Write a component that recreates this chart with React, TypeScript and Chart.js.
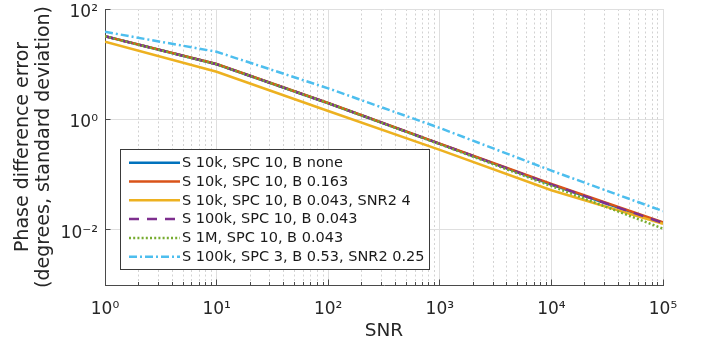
import React, { useEffect, useRef } from 'react';
import { Chart, registerables } from 'chart.js';

Chart.register(...registerables);

// ---------- data ----------
const SNR = [1, 10, 100, 1000, 10000, 100000];

const S10K_B_NONE = [32, 10.0, 1.96, 0.36, 0.066, 0.0132];
const S10K_B_0163 = [32.3, 10.1, 1.98, 0.365, 0.068, 0.0137];
const S10K_B_0043_SNR2_4 = [25.5, 7.3, 1.42, 0.28, 0.052, 0.0128];
const S100K_B_0043 = [32, 10.0, 1.97, 0.36, 0.066, 0.0133];
const S1M_B_0043 = [32, 10.0, 1.97, 0.355, 0.062, 0.0105];
const S100K_SPC3_B053_SNR2_025 = [38.6, 16.8, 3.65, 0.7, 0.118, 0.0218];

const SERIES_LABELS = [
  'S 10k, SPC 10, B none',
  'S 10k, SPC 10, B 0.163',
  'S 10k, SPC 10, B 0.043, SNR2 4',
  'S 100k, SPC 10, B 0.043',
  'S 1M, SPC 10, B 0.043',
  'S 100k, SPC 3, B 0.53, SNR2 0.25',
];
const SERIES_VALUES = [
  S10K_B_NONE,
  S10K_B_0163,
  S10K_B_0043_SNR2_4,
  S100K_B_0043,
  S1M_B_0043,
  S100K_SPC3_B053_SNR2_025,
];
const SERIES_COLORS = ['#0072BD', '#D95319', '#EDB120', '#7E2F8E', '#77AC30', '#4DBEEE'];
const SERIES_DASHES: number[][] = [[], [], [], [10, 8], [2, 2.2], [8, 3, 2, 3]];

const X_DECADES = [0, 1, 2, 3, 4, 5];
const X_MINOR_MULTIPLES = [2, 3, 4, 5, 6, 7, 8, 9];
const Y_TICKS = [1e-2, 1, 1e2];

const X_TITLE = 'SNR';
const Y_TITLE = ['Phase difference error', '(degrees, standard deviation)'];

// ---------- styles ----------
const FONT = '"DejaVu Sans", sans-serif';
const TEXT = '#262626';
const AXIS = '#4a4a4a';
const GRID_MAJOR = '#dfdfdf';
const GRID_MINOR = '#d2d2d2';
const LINE_WIDTH = 2.5;

const SUP: Record<string, string> = {
  '0': '\u2070', '1': '\u00B9', '2': '\u00B2', '3': '\u00B3', '4': '\u2074',
  '5': '\u2075', '6': '\u2076', '7': '\u2077', '8': '\u2078', '9': '\u2079', '-': '\u207B',
};
const pow10Label = (v: number) => {
  const e = Math.round(Math.log10(v));
  return '10' + String(e).split('').map((c) => SUP[c]).join('');
};
const isDecade = (v: number) => Math.abs(Math.log10(v) - Math.round(Math.log10(v))) < 1e-9;

const X_TICK_VALUES: number[] = X_DECADES.flatMap((d, i) =>
  i < X_DECADES.length - 1
    ? [Math.pow(10, d), ...X_MINOR_MULTIPLES.map((m) => m * Math.pow(10, d))]
    : [Math.pow(10, d)]
);

const align = (p: number) => Math.round(p - 0.5) + 0.5;

const inwardTicks = {
  id: 'inwardTicks',
  beforeDatasetsDraw(chart: any) {
    const { ctx, chartArea, scales } = chart;
    ctx.save();
    ctx.strokeStyle = AXIS;
    ctx.lineWidth = 1;
    ctx.setLineDash([]);
    ctx.beginPath();
    scales.x.ticks.forEach((t: any) => {
      const px = align(scales.x.getPixelForValue(t.value));
      const len = t.major ? 5.5 : 3;
      ctx.moveTo(px, chartArea.bottom);
      ctx.lineTo(px, chartArea.bottom - len);
    });
    scales.y.ticks.forEach((t: any) => {
      const py = align(scales.y.getPixelForValue(t.value));
      ctx.moveTo(chartArea.left, py);
      ctx.lineTo(chartArea.left + 5.5, py);
    });
    ctx.stroke();
    ctx.restore();
  },
};

const insideLegend = {
  id: 'insideLegend',
  afterDraw(chart: any) {
    const { ctx } = chart;
    const box = { left: 120.5, top: 149.5, right: 429.5, bottom: 269.5 };
    ctx.save();
    ctx.fillStyle = '#ffffff';
    ctx.fillRect(box.left, box.top, box.right - box.left, box.bottom - box.top);
    ctx.strokeStyle = '#3a3a3a';
    ctx.lineWidth = 1;
    ctx.setLineDash([]);
    ctx.strokeRect(box.left, box.top, box.right - box.left, box.bottom - box.top);
    chart.data.datasets.forEach((ds: any, i: number) => {
      const y = 162.7 + i * 18.8;
      ctx.beginPath();
      ctx.strokeStyle = ds.borderColor;
      ctx.lineWidth = ds.borderWidth;
      ctx.setLineDash(ds.borderDash || []);
      ctx.moveTo(129, y);
      ctx.lineTo(180, y);
      ctx.stroke();
      ctx.setLineDash([]);
      ctx.fillStyle = '#1a1a1a';
      ctx.font = `14.5px ${FONT}`;
      ctx.textBaseline = 'middle';
      ctx.textAlign = 'left';
      ctx.fillText(ds.label, 182, y + 0.5);
    });
    ctx.restore();
  },
};

export default function App() {
  const canvasRef = useRef<HTMLCanvasElement | null>(null);

  useEffect(() => {
    document.body.style.margin = '0';
    const canvas = canvasRef.current;
    if (!canvas) return;

    const datasets = SERIES_LABELS.map((label, i) => ({
      label,
      data: SNR.map((x, j) => ({ x, y: SERIES_VALUES[i][j] })),
      borderColor: SERIES_COLORS[i],
      backgroundColor: SERIES_COLORS[i],
      borderWidth: LINE_WIDTH,
      borderDash: SERIES_DASHES[i],
      pointRadius: 0,
      tension: 0,
      fill: false,
      order: SERIES_LABELS.length - i,
    }));

    const chart = new Chart(canvas, {
      type: 'line',
      data: { datasets },
      plugins: [inwardTicks, insideLegend],
      options: {
        animation: false,
        responsive: false,
        maintainAspectRatio: false,
        layout: { padding: { left: 0, top: 9, right: 41, bottom: 0 } },
        plugins: { legend: { display: false }, tooltip: { enabled: false } },
        scales: {
          x: {
            type: 'logarithmic',
            min: 1,
            max: 1e5,
            afterBuildTicks: (s: any) => {
              s.ticks = X_TICK_VALUES.map((v) => ({ value: v, major: isDecade(v) }));
            },
            afterFit: (s: any) => {
              s.height = 63;
              s.paddingLeft = 0;
              s.paddingRight = 0;
            },
            grid: {
              drawTicks: false,
              lineWidth: 1,
              color: (ctx: any) => {
                const t = ctx.tick;
                if (!t) return GRID_MAJOR;
                if (t.value === 1) return 'rgba(0,0,0,0)';
                return t.major ? GRID_MAJOR : GRID_MINOR;
              },
            },
            border: {
              display: true,
              color: AXIS,
              width: 1,
              dash: (ctx: any) => (ctx.tick && !ctx.tick.major ? [2, 2.5] : []),
            },
            ticks: {
              autoSkip: false,
              maxRotation: 0,
              minRotation: 0,
              padding: 14,
              color: TEXT,
              font: { family: FONT, size: 17, lineHeight: 1.2 },
              callback: (v: any) => (isDecade(Number(v)) ? pow10Label(Number(v)) : ''),
            },
            title: {
              display: true,
              text: X_TITLE,
              color: TEXT,
              font: { family: FONT, size: 18.5, lineHeight: 1.135 },
              padding: { top: 0, bottom: 6.5 },
            },
          },
          y: {
            type: 'logarithmic',
            min: 1e-3,
            max: 1e2,
            afterBuildTicks: (s: any) => {
              s.ticks = Y_TICKS.map((v) => ({ value: v, major: true }));
            },
            afterFit: (s: any) => {
              s.width = 105;
              s.paddingTop = 0;
              s.paddingBottom = 0;
            },
            grid: { drawTicks: false, lineWidth: 1, color: GRID_MAJOR },
            border: { display: true, color: AXIS, width: 1 },
            ticks: {
              autoSkip: false,
              padding: 7,
              labelOffset: 3.5,
              color: TEXT,
              font: { family: FONT, size: 17, lineHeight: 1.2 },
              callback: (v: any) => pow10Label(Number(v)),
            },
            title: {
              display: true,
              text: Y_TITLE,
              color: TEXT,
              font: { family: FONT, size: 19, lineHeight: 1.105 },
              padding: { top: 13, bottom: 0 },
            },
          },
        },
      } as any,
    });

    return () => chart.destroy();
  }, []);

  return (
    <div style={{ width: 704, height: 348, position: 'relative' }}>
      <canvas ref={canvasRef} width={704} height={348} style={{ display: 'block' }} />
    </div>
  );
}
